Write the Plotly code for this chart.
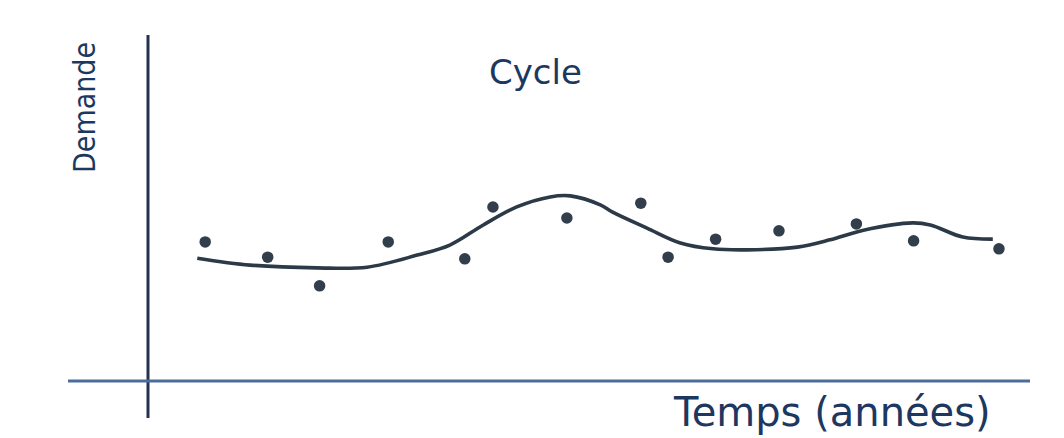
import plotly.graph_objects as go

# Observed demand (scatter points), time in arbitrary units (0-100), demand 0-100
time_obs = [6.5, 13.6, 19.5, 27.3, 36.0, 39.2, 47.6, 56.0, 59.1, 64.5, 71.7, 80.5, 87.0, 96.7]
demand_obs = [40.2, 35.8, 27.5, 40.2, 35.3, 50.3, 47.1, 51.4, 35.8, 41.0, 43.4, 45.4, 40.5, 38.2]

# Cyclical trend curve
time_cycle = [5.6, 11.6, 19.2, 24.9, 30.6, 34.3, 38.1, 41.9, 45.7, 48.0, 51.4, 52.8, 56.7,
              60.5, 64.2, 68.1, 73.8, 77.5, 81.3, 86.9, 88.9, 92.6, 96.0]
demand_cycle = [35.5, 33.5, 32.7, 32.9, 36.4, 39.3, 45.1, 50.3, 53.2, 53.5, 50.9, 48.8, 44.2,
                39.9, 38.2, 37.9, 38.7, 40.8, 43.6, 45.7, 45.1, 41.6, 41.0]

title_text = "Cycle"
x_label = "Temps (années)"
y_label = "Demande"

PAGE_W, PAGE_H = 1064, 438
OFF = 8                        # default page body margin
W, H = PAGE_W - 2 * OFF, PAGE_H - OFF
X0_PX, X_SCALE = 148 - OFF, 8.8     # figure pixel of x=0, pixels per unit
Y0_PX, Y_SCALE = 381 - OFF, 3.46    # figure pixel of y=0, pixels per unit


def dx(px):
    return (px - OFF - X0_PX) / X_SCALE


def dy(py):
    return (Y0_PX - (py - OFF)) / Y_SCALE


fig = go.Figure()

fig.add_trace(go.Scatter(
    x=time_cycle, y=demand_cycle, mode="lines",
    line=dict(color="#2c3a48", width=3.6, shape="spline", smoothing=1.0),
    hoverinfo="skip", showlegend=False))

fig.add_trace(go.Scatter(
    x=time_obs, y=demand_obs, mode="markers",
    marker=dict(color="#323e4b", size=11.5, line=dict(width=0)),
    showlegend=False))

# Axes lines
fig.add_shape(type="line", x0=0, x1=0, y0=dy(418), y1=dy(35),
              line=dict(color="#22344d", width=3))
fig.add_shape(type="line", x0=dx(68), x1=dx(1030), y0=0, y1=0,
              line=dict(color="#4c6c9c", width=3))

text_color = "#1d3860"
fig.add_annotation(text=title_text, x=dx(535), y=dy(72),
                   showarrow=False, xanchor="center", yanchor="middle",
                   font=dict(family="DejaVu Sans", size=34, color=text_color))
fig.add_annotation(text=x_label, x=dx(832), y=dy(412),
                   showarrow=False, xanchor="center", yanchor="middle",
                   font=dict(family="DejaVu Sans", size=40, color=text_color))
fig.add_annotation(text=y_label, x=dx(84), y=dy(108),
                   showarrow=False, xanchor="center", yanchor="middle", textangle=-90,
                   font=dict(family="DejaVu Sans Condensed, Liberation Sans Narrow, DejaVu Sans",
                             size=30, color=text_color))

fig.update_layout(
    width=W, height=H,
    margin=dict(l=0, r=0, t=0, b=0),
    paper_bgcolor="white", plot_bgcolor="white",
    xaxis=dict(range=[(0 - X0_PX) / X_SCALE, (W - X0_PX) / X_SCALE], visible=False, fixedrange=True),
    yaxis=dict(range=[(Y0_PX - H) / Y_SCALE, Y0_PX / Y_SCALE], visible=False, fixedrange=True),
)

fig.write_html("out.html")
